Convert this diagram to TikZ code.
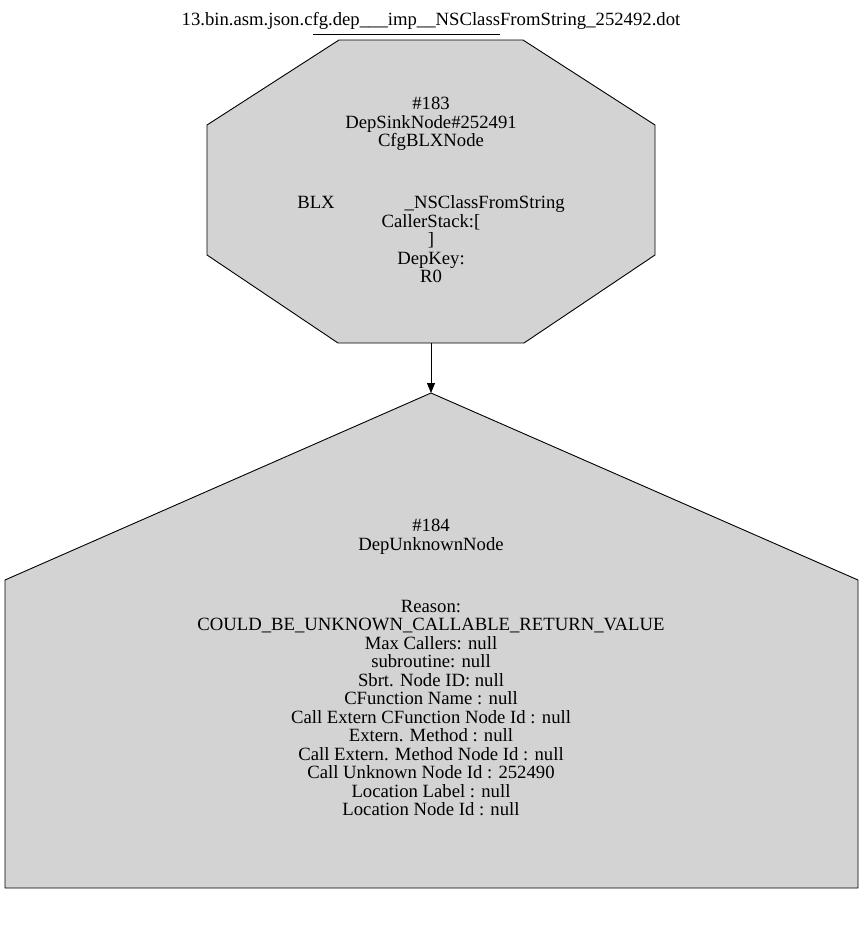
\documentclass[tikz,border=0pt]{standalone}
\usepackage{fontspec}
\setmainfont{Liberation Serif}
\usetikzlibrary{arrows.meta,positioning}
\definecolor{nodegray}{RGB}{211,211,211}

\begin{document}
\begin{tikzpicture}[x=1pt,y=-1pt,
	lbl/.style={font=\fontsize{18.7}{18.5}\selectfont,align=center,inner sep=0pt},
	shp/.style={draw,fill=nodegray,line width=0.9pt}]
	\useasboundingbox (0,0) rectangle (863,948);
	% title
	\node[lbl,anchor=north] (title) at (431,12) {13.bin.asm.json.cfg.dep\_\_\_imp\_\_NSClassFromString\_252492.dot};
	\draw[line width=0.8pt] (313,34) -- (500,34);
	% sink node (octagon)
	\draw[shp] (339,40) -- (523,40) -- (655,125) -- (655,255) -- (524,343) -- (338,343) -- (207,255) -- (207,125) -- cycle;
	\node[lbl,anchor=north] (sink) at (431,97) {\#183\\DepSinkNode\#252491\\CfgBLXNode\\[43.5pt]
		BLX\hspace{70pt}\_NSClassFromString\\CallerStack:[\\]\\DepKey:\\R0};
	% unknown node (house)
	\draw[shp] (431,393) -- (858,580) -- (858,888) -- (5,888) -- (5,580) -- cycle;
	\node[lbl,anchor=north] (unk) at (431,519) {\#184\\DepUnknownNode\\[43.5pt]
		Reason:\\COULD\_BE\_UNKNOWN\_CALLABLE\_RETURN\_VALUE\\Max Callers: null\\subroutine: null\\
		Sbrt. Node ID: null\\CFunction Name : null\\Call Extern CFunction Node Id : null\\
		Extern. Method : null\\Call Extern. Method Node Id : null\\Call Unknown Node Id : 252490\\
		Location Label : null\\Location Node Id : null};
	% edge
	\coordinate (sinkS) at (431,343);
	\coordinate (unkN) at (431,393);
	\draw[line width=0.9pt,-{Triangle[length=10pt,width=8pt]}] (sinkS) -- (unkN);
\end{tikzpicture}
\end{document}
